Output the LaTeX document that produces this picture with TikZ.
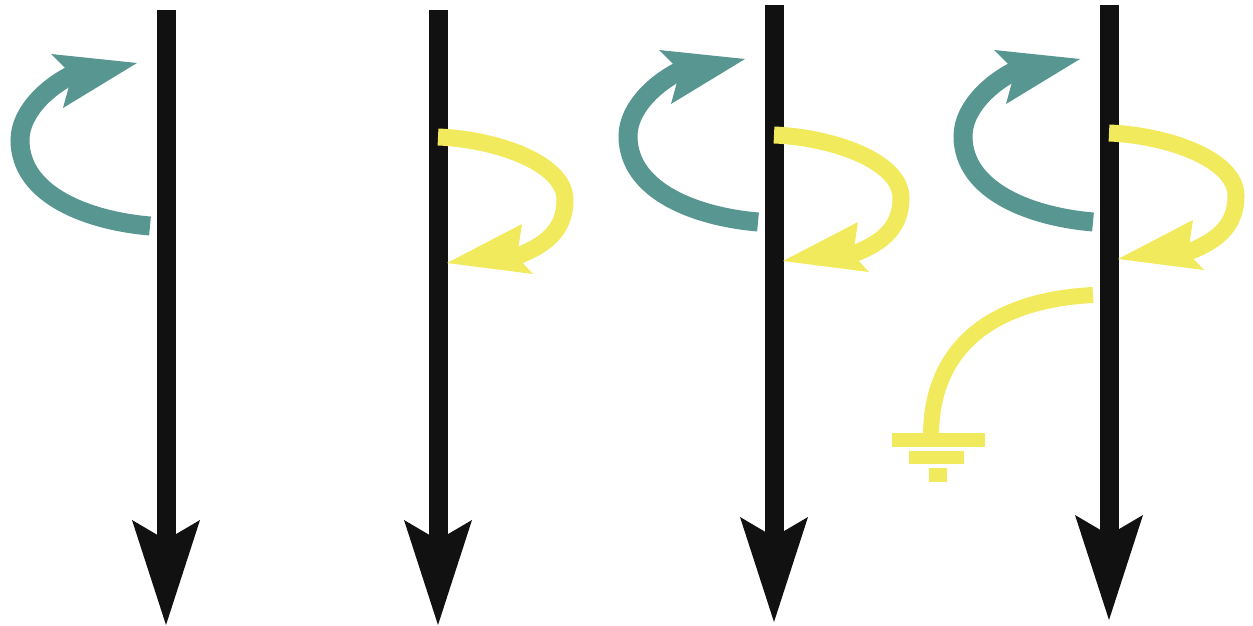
\documentclass[tikz,border=0pt]{standalone}
\usetikzlibrary{calc}
\definecolor{blk}{RGB}{17,17,17}
\definecolor{tealc}{RGB}{88,150,146}
\definecolor{yelc}{RGB}{240,234,92}
\tikzset{
  shaftline/.style={draw=blk,line width=19pt},
  headfill/.style={fill=blk},
  tealline/.style={draw=tealc,line width=19pt},
  tealhead/.style={fill=tealc},
  yelline/.style={draw=yelc,line width=17pt},
  yelhead/.style={fill=yelc},
  downarr/.pic={
    \draw[shaftline] (0,-60) -- (0,-#1);
    \fill[headfill] (0,0) -- (-34,-105) -- (0,-85) -- (34,-105) -- cycle;
  },
  tealturn/.pic={
    \draw[tealline] (0,0) .. controls (-60,-5) and (-130,-30) .. (-130,-86)
      .. controls (-130,-115) and (-100,-142) .. (-72,-154);
    \fill[tealhead] (-99,-172) -- (-13,-163) -- (-87,-118) -- (-78,-151) -- cycle;
  },
  yelturn/.pic={
    \draw[yelline] (0,0) .. controls (55,2) and (127,25) .. (127,63)
      .. controls (127,95) and (105,110) .. (74,121);
    \fill[yelhead] (84,87) -- (9,126) -- (95,137) -- (79,120) -- cycle;
  }
}
\begin{document}
\begin{tikzpicture}[x=1pt,y=-1pt]
\useasboundingbox (0,0) rectangle (1253,626);
% panel 1
\pic at (166,625) {downarr=615};
\pic at (150,226) {tealturn};
% panel 2
\pic at (438,625) {downarr=615};
\pic at (438,137) {yelturn};
% panel 3
\pic at (774,622) {downarr=617};
\pic at (758,222) {tealturn};
\pic at (774,135) {yelturn};
% panel 4
\pic at (1109,620) {downarr=615};
\pic at (1093,222) {tealturn};
\pic at (1109,133) {yelturn};
\coordinate (g0) at (1093,295);
\coordinate (g1) at (931,436);
\draw[yelline,line width=16pt] (g0) .. controls (995,300) and (931,345) .. (g1);
\fill[yelc] (892,433) rectangle (985,447);
\fill[yelc] (909,451) rectangle (964,464);
\fill[yelc] (929,468) rectangle (947,482);
\end{tikzpicture}
\end{document}
